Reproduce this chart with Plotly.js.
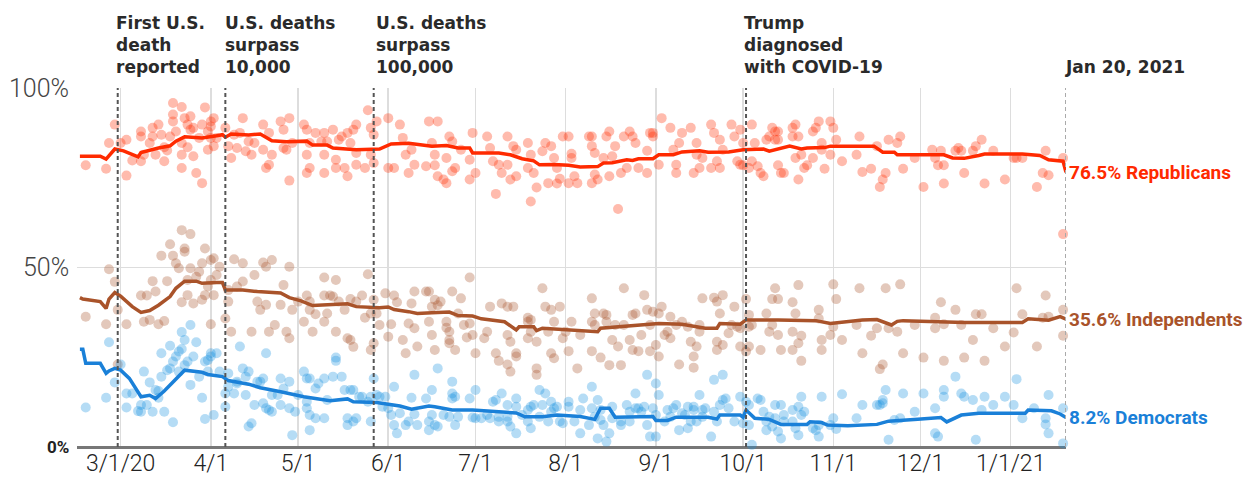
<!DOCTYPE html>
<html>
<head>
<meta charset="utf-8">
<script src="https://cdn.plot.ly/plotly-3.0.1.min.js"></script>
<style>
  html, body { margin: 0; padding: 0; background: #fff; }
  #chart { width: 1254px; height: 482px; }
</style>
</head>
<body>
<div id="chart"></div>
<script>
// ---- Data ----
// Month tick positions and labels
const tickDates = ['2020-03-01','2020-04-01','2020-05-01','2020-06-01','2020-07-01','2020-08-01','2020-09-01','2020-10-01','2020-11-01','2020-12-01','2021-01-01'];
const tickLabels = ['3/1/20','4/1','5/1','6/1','7/1','8/1','9/1','10/1','11/1','12/1','1/1/21'];

// Events
const eventDates = ['2020-02-29','2020-04-06','2020-05-27','2020-10-02','2021-01-20'];
const eventLabels = ['First U.S.<br>death<br>reported','U.S. deaths<br>surpass<br>10,000','U.S. deaths<br>surpass<br>100,000','Trump<br>diagnosed<br>with COVID-19','Jan 20, 2021'];

// Smoothed average lines (date, % approve)
const repLineDates = ['2020-02-16','2020-02-23','2020-02-25','2020-02-28','2020-03-02','2020-03-07','2020-03-08','2020-03-14','2020-03-18','2020-03-20','2020-03-23','2020-03-29','2020-04-03','2020-04-05','2020-04-06','2020-04-08','2020-04-14','2020-04-18','2020-04-22','2020-04-27','2020-05-04','2020-05-06','2020-05-11','2020-05-13','2020-05-21','2020-05-29','2020-06-02','2020-06-08','2020-06-10','2020-06-16','2020-06-21','2020-06-25','2020-06-29','2020-06-30','2020-07-09','2020-07-13','2020-07-17','2020-07-21','2020-07-23','2020-07-28','2020-08-02','2020-08-06','2020-08-12','2020-08-14','2020-08-17','2020-08-22','2020-08-24','2020-08-26','2020-08-31','2020-09-02','2020-09-07','2020-09-10','2020-09-16','2020-09-19','2020-09-26','2020-09-30','2020-10-01','2020-10-08','2020-10-10','2020-10-17','2020-10-21','2020-10-23','2020-10-29','2020-10-31','2020-11-11','2020-11-15','2020-11-18','2020-11-22','2020-11-23','2020-12-05','2020-12-09','2020-12-12','2020-12-16','2020-12-21','2020-12-23','2021-01-05','2021-01-11','2021-01-14','2021-01-19','2021-01-20'];
const repLineVals = [81,81,80.2,83,82.5,80.8,82,83.3,83.9,85.2,86.4,86.1,86.7,87,86.3,87.2,86.9,87.2,85.3,85,85.2,84.1,84.1,83.3,82.8,83,84.4,84.6,84.4,83.8,84.0,83.3,83.3,81.9,81.9,81.4,80.3,79.7,78.6,78.7,78.5,78.0,78.1,79.1,79.2,80,79.8,80.3,80.3,81.4,81.4,82.2,82.5,82.1,82.2,82.5,82.8,83,82.4,83.8,83.0,83.3,83.4,83.8,83.8,83.8,82.1,82.1,81.4,81.4,81.4,80.5,80.4,81.2,81.6,81.6,81.2,80,79.6,76.5];

const indLineDates = ['2020-02-16','2020-02-17','2020-02-23','2020-02-25','2020-02-26','2020-02-28','2020-03-01','2020-03-03','2020-03-05','2020-03-08','2020-03-11','2020-03-14','2020-03-18','2020-03-20','2020-03-23','2020-03-27','2020-03-29','2020-04-03','2020-04-05','2020-04-06','2020-04-12','2020-04-17','2020-04-25','2020-04-28','2020-05-02','2020-05-06','2020-05-14','2020-05-18','2020-05-21','2020-05-29','2020-06-01','2020-06-03','2020-06-08','2020-06-11','2020-06-16','2020-06-22','2020-06-25','2020-06-30','2020-07-03','2020-07-11','2020-07-15','2020-07-16','2020-07-21','2020-07-22','2020-07-24','2020-08-02','2020-08-12','2020-08-13','2020-08-22','2020-09-02','2020-09-10','2020-09-18','2020-09-22','2020-09-23','2020-09-30','2020-10-02','2020-10-13','2020-10-26','2020-10-31','2020-11-11','2020-11-16','2020-11-20','2020-11-21','2020-11-23','2020-11-25','2020-12-16','2021-01-05','2021-01-07','2021-01-14','2021-01-18','2021-01-20'];
const indLineVals = [41.6,41.2,40.5,38.6,41.2,43,42,40.5,39.1,37.5,38,39.5,41.9,44.2,46.2,46.2,45.6,45.8,45.8,43.7,43.7,43.3,42.9,41.6,40.7,39.4,39.7,39.9,39.1,38.8,39,38.3,37.7,37.2,37.4,37.6,36.6,36.5,35.7,34.9,32.6,33.5,33.5,32.4,33.1,32.6,32.1,33.1,33.7,34.4,34.2,33.1,33.1,34.4,34.2,35.4,35.4,35.2,34.4,35.4,35.5,34.5,34,35,35.2,34.7,34.7,35.7,35.3,36.3,35.6];

const demLineDates = ['2020-02-16','2020-02-17','2020-02-18','2020-02-23','2020-02-25','2020-02-26','2020-02-28','2020-03-01','2020-03-04','2020-03-08','2020-03-11','2020-03-13','2020-03-16','2020-03-20','2020-03-23','2020-03-29','2020-03-31','2020-04-05','2020-04-07','2020-04-14','2020-04-18','2020-04-25','2020-05-03','2020-05-12','2020-05-18','2020-05-20','2020-05-28','2020-06-05','2020-06-09','2020-06-15','2020-06-17','2020-06-23','2020-06-30','2020-07-09','2020-07-15','2020-07-18','2020-07-24','2020-07-29','2020-08-06','2020-08-11','2020-08-13','2020-08-16','2020-08-18','2020-08-31','2020-09-01','2020-09-05','2020-09-08','2020-09-19','2020-09-22','2020-09-23','2020-09-30','2020-10-01','2020-10-02','2020-10-05','2020-10-10','2020-10-14','2020-10-23','2020-10-24','2020-10-28','2020-10-30','2020-11-06','2020-11-16','2020-11-20','2020-11-30','2020-12-08','2020-12-10','2020-12-15','2020-12-21','2021-01-06','2021-01-07','2021-01-15','2021-01-18','2021-01-20'];
const demLineVals = [27.2,27.2,23.3,23.3,20.5,21.2,21.9,21.4,19.1,14,14.4,13.5,15.6,19.1,21.4,20.8,20.2,19.6,18.5,17.5,16.5,15.4,14,12.9,13.4,12.6,12.4,11.4,10.5,11.4,11.2,10.3,10.3,9.8,9.5,8.4,8.4,8.9,8.5,7.7,10.8,10.8,8.3,8.5,7.4,7.4,8.3,8.3,7.8,8.9,8.9,8.3,10.3,8,7.7,6.3,6.3,7,6.8,6.1,5.9,6.3,7.2,7.7,8.2,7.0,8.9,9.4,9.4,10.3,10.1,9.2,8.2];

// Individual polls: days after 2020-03-01, % approve
const repPollDays = [-12,-5,-2,-4,0,2,2,4,7,7,7,8,10,11,11,12,13,14,15,15,16,17,18,18,18,19,21,21,21,21,22,23,23,24,24,25,25,26,27,28,28,29,30,30,31,31,31,32,32,33,36,37,38,39,40,41,42,43,44,45,46,49,50,51,49,51,52,55,56,56,57,58,58,59,63,64,64,65,65,64,67,69,70,70,70,71,73,74,75,74,76,77,78,78,79,80,81,81,81,84,85,86,86,87,87,88,92,92,94,96,97,98,99,
100,101,105,106,107,108,108,109,109,111,112,112,113,114,114,115,117,120,120,121,122,126,127,128,129,130,131,133,133,134,135,136,136,140,140,141,141,142,143,145,146,147,148,149,150,150,151,152,154,154,155,155,156,157,161,162,162,162,163,163,164,166,167,168,168,169,170,171,172,173,174,175,176,177,178,181,181,182,183,183,185,186,189,190,191,191,192,193,196,197,198,198,199,200,203,203,204,205,206,206,207,210,211,212,213,
213,214,214,216,217,218,217,219,220,221,222,223,224,225,225,226,226,226,227,228,231,231,232,232,233,233,234,235,236,238,238,239,240,241,241,242,244,244,245,246,248,253,254,255,258,260,261,262,263,264,267,268,269,273,276,280,279,281,282,283,283,287,288,289,290,293,294,296,297,300,304,307,308,310,315,317,318,319,324,324];
const repPollVals = [78.5,77.5,89.8,84.7,84.7,75.6,85.6,79.8,87.9,86.5,79.6,81.4,84.7,88.9,86.5,81.4,89.8,87,83.5,79.6,82.6,86.5,95.8,92.6,90.7,87.9,84.7,94.7,77.7,81.4,91.6,89.8,83.5,92.1,88.4,88.9,81,76.3,86.1,73.5,89.8,94.6,87.9,82.8,90.7,89.3,86.1,91.6,83.8,86.1,88.9,83.8,80.5,87,83.3,87.5,91.6,82.4,85.1,81.4,84.7,89.8,77.7,78.6,82.8,87.5,81.4,90.7,88.4,83.3,82.8,91.6,74.2,84.7,89.8,81.4,88.4,84.7,77.7,76.3,87.5,85.1,87.5,81.4,76.3,85.1,88.4,77.7,85.6,80,86.5,77.7,87.5,75.4,84.7,88.4,81.9,78.6,89.8,77.7,93.8,81.4,88.9,79.1,87,90.7,91.6,77.7,77.7,89.8,86.1,81.4,76.3,
82.8,78.6,78.2,90.7,84.7,81.4,78.5,90.7,75.4,74.5,80.5,73.5,86.5,85.1,76.8,77.7,82.8,80,74.5,87.5,76.3,86.5,83.3,79.6,70.5,78.6,76.3,86.5,78.6,74.5,83.8,82.8,75.4,84.7,77.7,68.4,81.4,76.3,72.3,82.4,84.7,73.5,83.8,80.5,77.7,73.4,74.7,86.5,86.5,73.5,80.5,81.7,75.4,73.5,86.5,86.5,83.8,73.5,75.9,81.9,74.5,80.5,86.5,75.4,87.9,81,83.8,66.3,76.3,86.5,77.7,87.9,86.5,84.7,77.7,82.5,76.3,87.5,87.5,86.5,78.6,91.6,88.9,82.8,76.3,78.6,84.7,87.5,88.9,76.3,84.7,81.4,77.7,80.5,89.8,77.7,87.5,79.6,77.7,85.6,82.8,89.8,86.5,79.6,78.6,
88.4,78.5,84.7,77.7,89.8,84.7,79.6,78.2,76.3,75.4,85.6,86.5,88.9,85.6,87.9,87.9,85.6,78.5,76.3,76.3,88.9,86.5,80.5,89.8,86.5,74.5,81.4,77.7,78.5,87.9,80.5,88.9,90.7,84.7,82.8,77.5,90.7,81.4,88.9,85.6,79.6,81.4,86.5,76.6,77.5,83.8,72.4,74.5,76.3,85.6,84.7,86.5,77.5,80.5,72.4,80.5,82.8,78.5,82.5,78.5,73.4,82.5,83.3,82.5,76.3,82.5,83.8,85.6,73.4,82.5,74.5,80.5,80.5,80.5,72.4,76.3,82.5,75.7,80.5,59.3];

const indPollDays = [-12,-5,-4,-2,-1,-1,2,7,8,9,10,11,12,13,14,15,16,17,18,19,20,21,21,22,22,23,23,24,24,25,26,27,28,28,29,29,30,31,31,32,31,32,33,34,36,37,37,38,39,40,42,42,45,46,47,48,49,50,50,51,52,53,55,56,57,58,58,59,61,63,64,65,65,66,67,70,70,71,70,72,73,74,74,75,77,78,79,79,80,81,83,84,85,86,87,86,87,88,89,91,92,93,94,95,97,98,99,
100,101,101,102,105,106,106,107,107,108,108,109,110,112,112,113,113,113,114,115,116,117,118,119,120,120,121,122,125,126,127,129,130,131,133,133,133,134,134,135,136,136,140,140,140,141,141,143,143,143,145,146,147,148,148,149,149,151,152,153,154,155,157,158,162,162,162,163,163,165,166,167,167,168,169,170,171,172,173,173,175,176,176,177,178,179,180,181,182,182,183,184,185,185,186,187,188,189,189,191,192,193,195,196,197,197,198,199,199,200,204,205,205,205,206,207,207,209,210,211,212,
213,213,215,215,216,216,216,217,220,222,223,224,224,225,226,226,227,231,231,231,232,233,233,234,234,240,240,241,241,244,245,245,246,248,253,254,255,258,260,261,262,263,264,267,268,269,273,276,280,280,282,283,283,287,289,290,293,294,296,297,300,304,307,308,310,315,317,318,319,324,324];
const indPollVals = [36.3,34.2,49.5,46.0,38.2,23.0,34.2,42.2,34.9,42.2,35.4,46.2,43.3,34.2,53.3,35.1,46.2,56.5,53.3,51.2,49.8,60.4,40.3,55.3,54.4,42.3,46.5,59.3,49.8,40,47.4,48.8,41,51.2,42.3,55.3,44.7,52.1,46.5,52.6,34.2,42.3,47.9,50.2,35.8,40.5,43.7,32.1,52.3,44.7,46.1,51.2,32.1,47.9,40.5,38.2,51.4,39.6,50.2,32.1,52.1,34,39.6,45.1,32.1,50.2,30.3,38.2,40.5,34.9,42.2,38.2,40.5,32.1,37,47.2,42.2,37.2,34.9,42.2,41.9,32.1,46.5,40.5,38.2,30.3,41.2,29.8,27.9,40.5,42.2,36,48.1,37.2,41,27,28.9,37.2,34,42.8,30.7,34.2,42.2,40.3,29.8,26.1,34.4,
40,43.3,33.1,28,43.3,34.9,43.3,39.1,31.2,41,27,39.5,40.5,34.9,33.2,29.8,28.9,32.1,43.3,27,37.2,41.4,34,30.5,47.2,34.4,31.2,26.1,30.3,32.1,39.1,26.1,24,40,39.1,31.2,23,29.3,21,39.1,26.1,25.2,36,34.9,30.3,32.1,35.4,21.9,29.3,20.1,44.2,39.1,32.1,38.2,26.1,24.7,34.9,39.1,30.3,32.1,26.7,34.9,21.9,31.2,41.4,34.9,26.7,37.2,34,24.9,37.2,34.9,36.8,22.8,29.8,34,28,22.8,44.2,34,29.8,36.8,27,37.2,26.7,31.2,42.3,38.2,34,26.7,37.7,28.4,37.2,25.2,39.1,31.2,32.1,36.3,30.3,34,23,34.9,33.5,29.3,22.1,25.2,28,32.1,34,41.4,41.6,40.5,29.3,27,37.2,28.4,42.3,31.7,34,39.1,33.5,
28,33.1,41.2,26.6,36.8,28,33.5,34,27,37.2,32.1,41.2,34,44.2,41.2,31.2,27,32.1,40.3,27,37.2,28.9,45.1,31,24,38.2,35.8,29.8,27,31.2,45.3,33.5,41.2,29.8,34,44.2,26.1,31,33.1,21.7,23,44.2,33.1,32.1,45.3,26.1,34,24.9,33.1,36,40.3,34.2,24,38.2,34,24.9,29.8,37,37,24,33.1,28,31.9,44.2,37,28,36,42.2,36.3,38.2,31];

const demPollDays = [-12,-5,-4,-2,0,2,2,4,6,7,7,8,9,10,11,12,13,13,14,14,15,16,17,17,18,18,19,20,20,21,21,22,22,23,24,24,25,26,27,28,29,29,30,30,31,31,32,33,34,36,36,37,37,39,40,40,41,42,43,43,44,44,45,46,47,48,49,49,50,50,51,52,52,54,55,55,56,58,58,59,60,61,63,64,64,64,65,65,65,67,67,68,70,70,71,73,74,74,76,77,78,78,79,80,80,81,82,83,85,86,86,87,88,89,90,91,92,93,94,94,95,96,98,99,
100,101,101,102,105,106,106,107,107,108,109,109,111,113,114,114,114,115,115,116,120,121,122,122,124,126,127,128,129,130,130,131,133,133,133,134,136,136,136,138,140,140,141,141,142,144,144,145,146,147,148,148,149,150,151,152,154,154,156,158,158,159,161,162,162,163,164,164,165,165,166,167,168,169,169,172,172,174,175,175,177,177,178,179,180,181,181,182,183,184,184,184,185,187,188,189,190,191,192,193,194,195,195,196,197,197,198,199,200,200,201,203,204,204,205,206,207,207,208,209,211,
213,214,215,216,216,217,219,220,221,222,222,223,224,225,225,226,227,227,228,228,231,231,232,233,233,234,234,235,238,239,240,240,241,244,245,246,248,253,255,260,261,262,262,263,264,266,268,269,273,276,280,280,281,283,283,287,289,290,293,294,296,297,300,304,307,308,310,314,318,318,319,319,324,324];
const demPollVals = [11,13.7,29.2,18,23,14.9,11,14.9,10,9.8,11.7,21,11.7,18,9.8,15.9,13.7,15.6,26.1,19.6,9.8,21.4,21.9,28.2,6.9,23.8,25.2,21,26.6,32,27.3,29.8,22.8,23.8,34,17.3,25.2,29.2,19.6,13.7,7.8,23.8,24.2,21,26.1,25.2,8.9,26.1,21,14.9,11.2,16.8,20.5,14.9,18.2,17.7,28,21.9,14.5,19.6,5.7,21,6.6,11.7,18.2,18.2,19.1,12.2,26.1,10.8,10.3,14.5,9.8,14.5,19.1,11.7,16.3,10.8,18.2,3.3,9.8,14.5,21,19.1,12.6,10.8,8.9,4.7,19.1,8,16.3,17.7,19.1,8,13.1,19.6,24.9,24,19.6,15.9,8,6.1,15.9,15.9,7.1,8,14,14,12.6,14,7.1,19.1,14.5,14,11.2,14,10.8,8.9,16.8,6.1,3.8,9.4,6.1,7.1,
13.7,9.1,20.1,6.1,13.5,4.7,7.1,15.9,8.9,6.1,21.9,5.7,8.9,8.4,18.2,14.9,13.5,6.1,14,8.4,13.5,8.2,15.9,8,8,8.9,8,12.6,13.1,7.1,8.4,14.9,11.7,8.4,7.1,5.7,11.2,13.5,3.8,8.9,10.3,7.1,5.2,11.2,11.7,15.9,8.4,11.7,14.9,7.1,9.8,12.6,10.8,11.2,7.1,6.6,11.2,12.6,7.1,3.8,10.3,13.5,6.1,10.8,16.8,8.4,13.1,2.4,7.5,10.3,6.1,1.5,3.8,8,11.2,6.1,7.1,11.7,9.8,7.1,14.9,10.8,10.8,9.8,11.2,20.1,6.1,2.9,10.8,8.9,17.7,2.9,14.5,7.1,10.3,8.4,10.8,11.7,4.7,9.4,8.9,11.2,5.2,7.1,10.3,11.2,7.1,14.5,10.3,8.4,10.8,2.9,18.7,9.8,7.1,11.7,13.1,20.1,13.5,10.8,7.1,
14,6.6,12.6,11.7,6.1,0.6,13.5,13.1,9.8,7.1,4.7,8.4,5.7,8,11.7,4.3,11.7,2.4,7.1,8.9,10.3,7.1,5.2,11.2,3.3,8.9,14,9.8,5.2,4.7,6.1,2.9,14,6.1,8,5,14.7,8,11.7,11.7,11.7,12.2,13.1,15.9,2,7.5,8,14.9,9.8,14.9,10.8,3.8,2.9,15.9,14,19.6,14.9,14,13.1,2,10.3,14,11.7,14,11.7,18.9,8,10.8,8,6.3,14.5,3.8,10.8,1.0];

// Series meta
const seriesNames = ['Republicans','Independents','Democrats'];
const seriesColors = ['#ff2a00','#a9532a','#1a80d8'];
const pollColors = ['rgba(255,42,0,0.32)','rgba(169,83,42,0.32)','rgba(26,145,225,0.32)'];
const finalVals = [76.5, 35.6, 8.2];

// ---- Build ----
const base = Date.UTC(2020, 2, 1);
const toDate = d => new Date(base + d * 86400000).toISOString().slice(0, 10);

const pollDays = [repPollDays, indPollDays, demPollDays];
const pollVals = [repPollVals, indPollVals, demPollVals];
const lineDates = [repLineDates, indLineDates, demLineDates];
const lineVals = [repLineVals, indLineVals, demLineVals];

const traces = [];
for (let i = 0; i < 3; i++) {
  traces.push({
    type: 'scatter', mode: 'markers',
    x: pollDays[i].map(toDate), y: pollVals[i],
    marker: { size: 10, color: pollColors[i], line: { width: 0 } },
    cliponaxis: false, hoverinfo: 'skip', showlegend: false
  });
}
for (let i = 0; i < 3; i++) {
  traces.push({
    type: 'scatter', mode: 'lines',
    x: lineDates[i], y: lineVals[i],
    line: { color: seriesColors[i], width: 3.5 },
    cliponaxis: false, hoverinfo: 'skip', showlegend: false
  });
}

const shapes = eventDates.map((d, i) => ({
  type: 'line', xref: 'x', yref: 'paper', x0: d, x1: d, y0: 0, y1: 1,
  line: { color: i === eventDates.length - 1 ? '#aaaaaa' : '#555555', width: 2, dash: '4px,3px' },
  layer: 'above'
}));

const annFont = { family: 'DejaVu Sans, Liberation Sans, sans-serif', size: 17, color: '#2a2a2a', weight: 'bold' };
const eventShift = [-4, -2, 0, -4, -3];
const annotations = eventLabels.map((t, i) => ({
  xref: 'x', yref: 'paper', x: eventDates[i], y: 1, xanchor: 'left', yanchor: 'bottom',
  xshift: eventShift[i], yshift: 9, align: 'left', showarrow: false, text: t, font: annFont
}));

// y-axis labels
const yLabelVals = [100, 50, 0];
const yLabelText = ['100%', '50%', '0%'];
yLabelVals.forEach((v, i) => {
  annotations.push({
    xref: 'paper', yref: 'y', x: 0, y: v, xanchor: 'right', yanchor: 'middle', xshift: -6,
    showarrow: false, text: yLabelText[i],
    font: i < 2 ? { family: 'Roboto, sans-serif', size: 25, color: '#444', weight: 300 }
                : { family: 'Roboto, sans-serif', size: 17, color: '#222', weight: 'bold' }
  });
});

// End labels
for (let i = 0; i < 3; i++) {
  annotations.push({
    xref: 'x', yref: 'y', x: '2021-01-20', y: finalVals[i], xanchor: 'left', yanchor: 'middle', xshift: 1,
    showarrow: false, text: finalVals[i].toFixed(1) + '% ' + seriesNames[i],
    font: { family: 'Roboto, sans-serif', size: 19, color: seriesColors[i], weight: 'bold' }
  });
}

const layout = {
  width: 1254, height: 482,
  margin: { l: 77, r: 188, t: 88, b: 35, pad: 0 },
  paper_bgcolor: '#fff', plot_bgcolor: '#fff',
  showlegend: false,
  xaxis: {
    type: 'date', range: ['2020-02-15', '2021-01-20'],
    tickmode: 'array', tickvals: tickDates, ticktext: tickLabels,
    showgrid: true, gridcolor: '#dddddd', gridwidth: 1.5,
    zeroline: false, showline: false, ticks: '',
    tickfont: { family: 'Roboto, sans-serif', size: 23, color: '#222', weight: 300 },
    fixedrange: true
  },
  yaxis: {
    range: [0, 100], tickmode: 'array', tickvals: [0, 50, 100],
    showticklabels: false, showgrid: true, gridcolor: '#dddddd', gridwidth: 1.5,
    zeroline: true, zerolinecolor: '#777', zerolinewidth: 3,
    showline: false, ticks: '', fixedrange: true
  },
  shapes: shapes,
  annotations: annotations,
  hovermode: false
};

Plotly.newPlot('chart', traces, layout, { displayModeBar: false, staticPlot: true });
</script>
</body>
</html>
